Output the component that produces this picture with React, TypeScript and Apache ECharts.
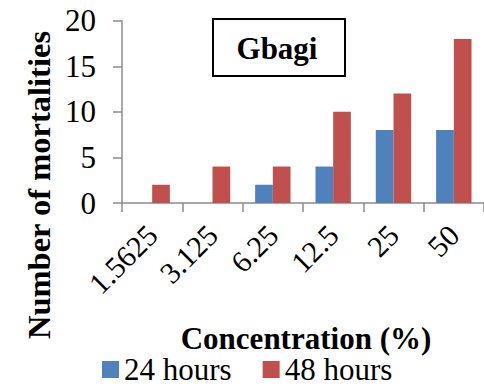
import React, { useEffect, useRef } from "react";
import * as echarts from "echarts";

const categories = ["1.5625", "3.125", "6.25", "12.5", "25", "50"];
const hours24 = [0, 0, 2, 4, 8, 8];
const hours48 = [2, 4, 4, 10, 12, 18];
const seriesNames = ["24 hours", "48 hours"];
const yTitle = "Number of mortalities";
const xTitle = "Concentration (%)";
const boxLabel = "Gbagi";

const FONT = "Liberation Serif";
const AXIS_GRAY = "#8c8c8c";

export default function App() {
  const ref = useRef<HTMLDivElement>(null);
  useEffect(() => {
    if (!ref.current) return;
    const chart = echarts.init(ref.current, null, { renderer: "svg" });
    chart.setOption({
      animation: false,
      backgroundColor: "#ffffff",
      textStyle: { fontFamily: FONT },
      grid: { left: 122, top: 20.7, width: 370, height: 182.3, containLabel: false },
      xAxis: {
        type: "category",
        data: categories,
        axisLine: { show: true, lineStyle: { color: AXIS_GRAY, width: 1.5 } },
        axisTick: { show: true, length: 9, lineStyle: { color: AXIS_GRAY, width: 1.5 } },
        axisLabel: {
          rotate: 45,
          margin: 27,
          color: "#000",
          fontSize: 30,
          fontFamily: FONT,
          interval: 0,
        },
        splitLine: { show: false },
      },
      yAxis: {
        type: "value",
        min: 0,
        max: 20,
        interval: 5,
        axisLine: { show: true, lineStyle: { color: AXIS_GRAY, width: 1.5 } },
        axisTick: { show: true, length: 9, lineStyle: { color: AXIS_GRAY, width: 1.5 } },
        axisLabel: { margin: 26, color: "#000", fontSize: 31, fontFamily: FONT },
        splitLine: { show: false },
      },
      legend: {
        left: 102,
        top: 354,
        padding: 0,
        icon: "rect",
        itemWidth: 17,
        itemHeight: 17,
        itemGap: 31,
        textStyle: { fontSize: 31, fontFamily: FONT, color: "#000", lineHeight: 30 },
        data: seriesNames,
      },
      series: [
        {
          name: seriesNames[0],
          type: "bar",
          data: hours24,
          barWidth: 17.7,
          barGap: "0%",
          itemStyle: { color: "#4F81BD" },
        },
        {
          name: seriesNames[1],
          type: "bar",
          data: hours48,
          barWidth: 17.7,
          barGap: "0%",
          itemStyle: { color: "#C0504D" },
        },
      ],
      graphic: [
        {
          type: "rect",
          shape: { x: 213, y: 19, width: 132, height: 57 },
          style: { fill: "#fff", stroke: "#000", lineWidth: 2 },
          z: 10,
        },
        {
          type: "text",
          x: 277,
          y: 48,
          z: 11,
          style: {
            text: boxLabel,
            fontSize: 31,
            fontWeight: "bold",
            fontFamily: FONT,
            fill: "#000",
            align: "center",
            verticalAlign: "middle",
          },
        },
        {
          type: "text",
          x: 39,
          y: 185,
          rotation: Math.PI / 2,
          style: {
            text: yTitle,
            fontSize: 32.5,
            fontWeight: "bold",
            fontFamily: FONT,
            fill: "#000",
            align: "center",
            verticalAlign: "middle",
          },
        },
        {
          type: "text",
          x: 306,
          y: 338,
          style: {
            text: xTitle,
            fontSize: 31,
            fontWeight: "bold",
            fontFamily: FONT,
            fill: "#000",
            align: "center",
            verticalAlign: "middle",
          },
        },
      ],
    });
    return () => chart.dispose();
  }, []);
  return (
    <div
      ref={ref}
      style={{ position: "fixed", left: 0, top: 0, width: 484, height: 388, background: "#fff" }}
    />
  );
}
